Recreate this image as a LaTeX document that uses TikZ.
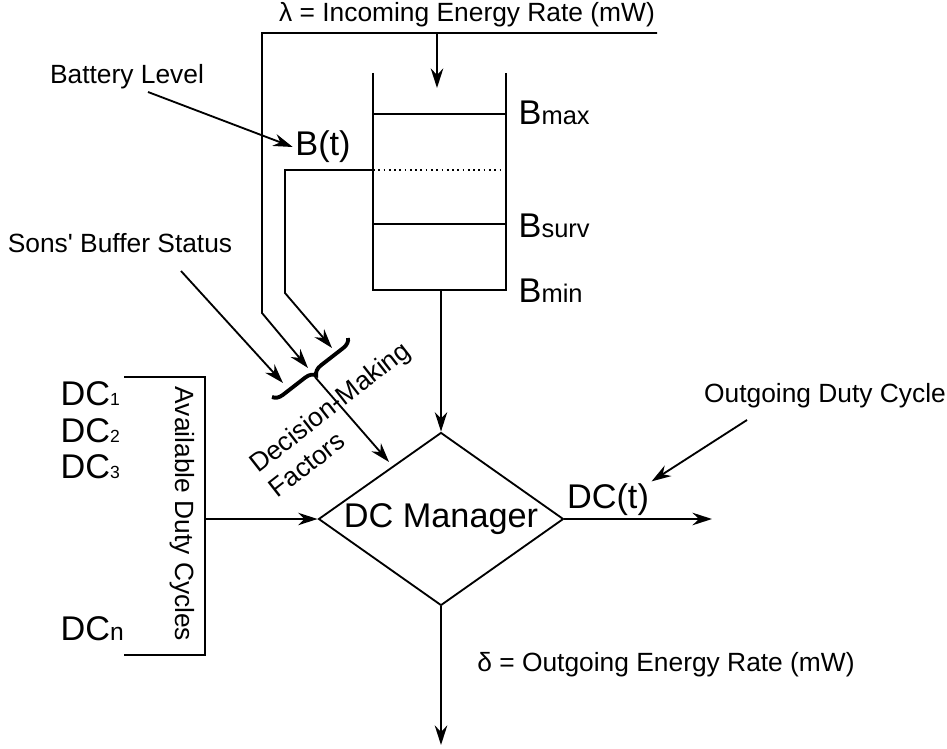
\documentclass[tikz,border=0pt]{standalone}
\usepackage{fontspec}
\setmainfont{Liberation Sans}
\usetikzlibrary{arrows.meta,shapes.geometric,decorations.pathreplacing}
\newcommand{\lblsize}{\fontsize{15}{18}\selectfont}
\newcommand{\bigsize}{\fontsize{19.5}{23}\selectfont}
\newcommand{\blev}[1]{{\bigsize B}{\fontsize{14.5}{17}\selectfont #1}}
\newcommand{\dcsub}[2]{{\bigsize DC}{\fontsize{#1}{#1}\selectfont #2}}

\begin{document}
\begin{tikzpicture}[x=0.2mm, y=-0.2mm, >={Stealth[length=3.9mm,width=2.5mm]}, line width=1.05pt,
	   lbl/.style={font=\lblsize, inner sep=1pt},
	   big/.style={font=\bigsize, inner sep=1pt},
	   mgrbox/.style={draw, diamond, aspect=1.416, inner sep=0pt, minimum width=49mm, minimum height=34.6mm, font=\bigsize}]
	  \useasboundingbox (0,0) rectangle (947,749);
	  % battery
	  \coordinate (btl) at (373,73); \coordinate (bbl) at (373,290);
	  \coordinate (btr) at (506,73); \coordinate (bbr) at (506,290);
	  \coordinate (bbot) at (441,290); \coordinate (lvl) at (373,170);
	  \draw[line width=1.3pt] (btl)--(bbl)--(bbr)--(btr);
	  \draw[line width=1.3pt] (373,114)--(506,114); \draw[line width=1.3pt] (373,224)--(506,224);
	  \draw[dotted, line width=1pt] (lvl)--(506,170);
	  \node[big, anchor=base west] (bmax) at (516,125) {\blev{max}};
	  \node[big, anchor=base west] (bsurv) at (516,238) {\blev{surv}};
	  \node[big, anchor=base west] (bmin) at (516,302) {\blev{min}};
	  % incoming energy
	  \node[lbl] (lam) at (467,15) {λ = Incoming Energy Rate (mW)};
	  \coordinate (tl) at (262,33); \coordinate (tr) at (657,33); \coordinate (tin) at (437,33);
	  \coordinate (tb) at (262,313); \coordinate (tdn) at (437,88);
	  \draw[->] (tin)--(tdn);
	  % decision-making factors
	  \node[big] (bt) at (323,147) {B(t)};
	  \node[lbl] (bl) at (127,77) {Battery Level};
	  \node[lbl] (sbs) at (120,243) {Sons\textquotesingle\ Buffer Status};
	  \coordinate (bls) at (148,92); \coordinate (sbss) at (181,271);
	  \coordinate (lc) at (285,170); \coordinate (lb) at (285,293);
	  \coordinate (in1) at (283,383); \coordinate (in2) at (308,368); \coordinate (in3) at (332,348);
	  \coordinate (brA) at (348,338); \coordinate (brB) at (272,397); \coordinate (brtip) at (315,377);
	  \draw[->] (bls)--(bt.west);
	  \draw[->] (sbss)--(in1);
	  \draw[->] (tr)--(tl)--(tb)--(in2);
	  \draw[->] (lvl)--(lc)--(lb)--(in3);
	  \draw[decorate, decoration={brace, amplitude=2mm}, line width=2.2pt] (brA)--(brB);
	  \node[lbl, rotate=38, align=left] (dmf) at (339,419) {Decision-Making\\Factors};
	  % manager
	  \node[mgrbox] (mgr) at (441,519) {DC Manager};
	  \coordinate (dmk) at (389,462);
	  \draw[->] (brtip)--(dmk);
	  \draw[->] (bbot)--(mgr.north);
	  % available duty cycles
	  \node[big, anchor=base west] (dc1) at (58,405) {\dcsub{10}{1}};
	  \node[big, anchor=base west] (dc2) at (58,442) {\dcsub{10}{2}};
	  \node[big, anchor=base west] (dc3) at (58,478) {\dcsub{10}{3}};
	  \node[big, anchor=base west] (dcn) at (58,640) {\dcsub{14}{n}};
	  \coordinate (avt) at (124,377); \coordinate (avtr) at (205,377);
	  \coordinate (avbr) at (205,655); \coordinate (avb) at (124,655); \coordinate (avr) at (205,519);
	  \draw (avt)--(avtr)--(avbr)--(avb);
	  \node[lbl, rotate=-90] (adc) at (182,514) {Available Duty Cycles};
	  \draw[->] (avr)--(mgr.west);
	  % outgoing
	  \node[big] (dct) at (608,500) {DC(t)};
	  \coordinate (dcout) at (712,519);
	  \draw[->] (mgr.east)--(dcout);
	  \node[lbl] (ogd) at (825,396) {Outgoing Duty Cycle};
	  \coordinate (ogs) at (747,420);
	  \draw[->] (ogs)--(dct.north east);
	  \node[lbl] (del) at (666,665) {δ = Outgoing Energy Rate (mW)};
	  \coordinate (out) at (441,745);
	  \draw[->] (mgr.south)--(out);
	\end{tikzpicture}
\end{document}
